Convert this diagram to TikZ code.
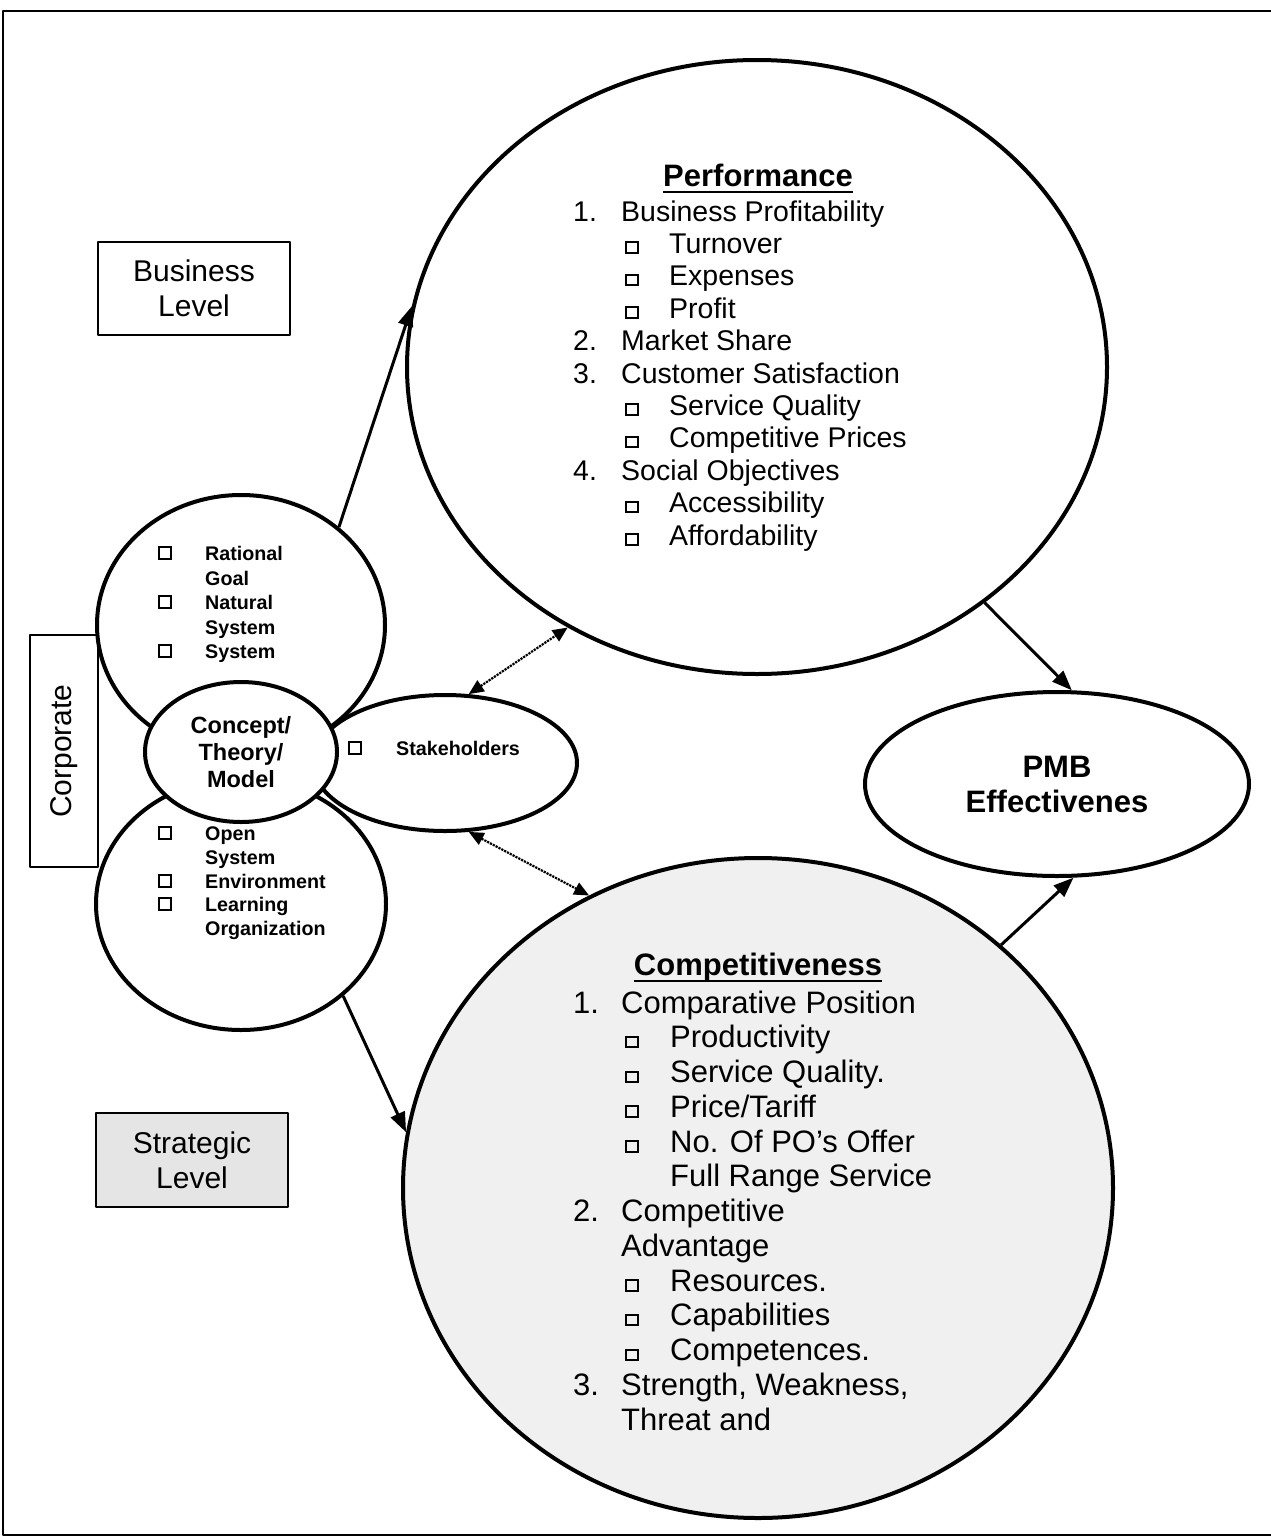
\documentclass[tikz,border=0pt]{standalone}
\usepackage{fontspec}
\setmainfont{Liberation Sans}
\usetikzlibrary{arrows.meta,shapes.geometric,calc}
\newcommand\cbig{\raisebox{1.5pt}{\setlength\fboxsep{0pt}\setlength\fboxrule{2pt}\fbox{\rule{0pt}{8.5pt}\rule{9.5pt}{0pt}}}}
\newcommand\csmall{{\setlength\fboxsep{0pt}\setlength\fboxrule{1.9pt}\fbox{\rule{0pt}{9.5pt}\rule{9.5pt}{0pt}}}}
\begin{document}
\begin{tikzpicture}[x=1pt,y=-1pt,line join=round,
  oval/.style={ellipse,draw,line width=4pt,inner sep=0pt},
  lbox/.style={draw,line width=2pt,inner sep=0pt,align=center,font=\fontsize{30}{35}\selectfont},
  arr/.style={line width=3pt,-{Triangle[length=20pt,width=15pt]}},
  darr/.style={line width=2.2pt,densely dotted,{Triangle[length=15pt,width=13pt]}-{Triangle[length=15pt,width=13pt]}},
  txt/.style={inner sep=0pt,anchor=base west},
  smalltxt/.style={inner sep=0pt,anchor=base west,font=\bfseries\fontsize{19.7}{24}\selectfont},
  perftxt/.style={txt,font=\fontsize{28.5}{32}\selectfont},
  comptxt/.style={txt,font=\fontsize{31}{35}\selectfont},
  title/.style={inner sep=0pt,anchor=base,font=\bfseries\fontsize{31}{35}\selectfont}]
\useasboundingbox (0,0) rectangle (1271,1539);
% frame
\draw[line width=2.5pt] (1271,11) -- (3,11) -- (3,1535) -- (1271,1535);
% level boxes
\node[lbox,minimum width=192pt,minimum height=93pt] (bl) at (194,288.5) {Business\\Level};
\node[lbox,fill=black!10,minimum width=192pt,minimum height=94pt] (sl) at (192,1160) {Strategic\\Level};
\node[lbox,rotate=90,minimum width=232pt,minimum height=68pt] (corp) at (64,751) {Corporate};
% big ellipses
\node[oval,minimum width=700pt,minimum height=614pt] (perf) at (757,367) {};
\node[oval,fill=black!6,minimum width=710pt,minimum height=660pt] (comp) at (758,1188) {};
\node[oval,minimum width=384pt,minimum height=184pt,align=center,font=\bfseries\fontsize{31}{35}\selectfont] (pmb) at (1057,784) {PMB\\Effectivenes};
% left cluster
\node[oval,fill=white,minimum width=264pt,minimum height=136pt] (stake) at (445,763) {};
\node[oval,fill=white,minimum width=288pt,minimum height=260pt] (up) at (241,625) {};
\node[oval,fill=white,minimum width=290pt,minimum height=252pt] (low) at (241,904) {};
\node[oval,fill=white,minimum width=192pt,minimum height=140pt,align=center,font=\bfseries\fontsize{23.5}{27}\selectfont] (concept) at (241,752) {Concept/\\Theory/\\Model};
% upper circle text
\node[smalltxt] (u1) at (205,560) {Rational};
\node[smalltxt] (u2) at (205,585) {Goal};
\node[smalltxt] (u3) at (205,609) {Natural};
\node[smalltxt] (u4) at (205,634) {System};
\node[smalltxt] (u5) at (205,658) {System};
\node[inner sep=0pt,anchor=west] (ub1) at (158,553) {\csmall};
\node[inner sep=0pt,anchor=west] (ub2) at (158,602) {\csmall};
\node[inner sep=0pt,anchor=west] (ub3) at (158,651) {\csmall};
% lower circle text
\node[smalltxt] (l1) at (205,840) {Open};
\node[smalltxt] (l2) at (205,864) {System};
\node[smalltxt] (l3) at (205,888) {Environment};
\node[smalltxt] (l4) at (205,911) {Learning};
\node[smalltxt] (l5) at (205,935) {Organization};
\node[inner sep=0pt,anchor=west] (lb1) at (158,833) {\csmall};
\node[inner sep=0pt,anchor=west] (lb2) at (158,881) {\csmall};
\node[inner sep=0pt,anchor=west] (lb3) at (158,904) {\csmall};
% stakeholders
\node[inner sep=0pt,anchor=west] (sb) at (348,748) {\csmall};
\node[smalltxt] (st) at (396,755) {Stakeholders};
% performance text
\node[title] (ptitle) at (758,186) {Performance};
\draw[line width=2.2pt] ([yshift=-6pt]ptitle.base west) -- ([yshift=-6pt]ptitle.base east);
\foreach \lab/\lx/\tx/\t [count=\i from 0] in {
  {1.}/0/48/{Business Profitability},
  {\cbig}/52/96/{Turnover},
  {\cbig}/52/96/{Expenses},
  {\cbig}/52/96/{Profit},
  {2.}/0/48/{Market Share},
  {3.}/0/48/{Customer Satisfaction},
  {\cbig}/52/96/{Service Quality},
  {\cbig}/52/96/{Competitive Prices},
  {4.}/0/48/{Social Objectives},
  {\cbig}/52/96/{Accessibility},
  {\cbig}/52/96/{Affordability}}{
  \node[perftxt] (pl\i) at (573+\lx,221+\i*32.4) {\lab};
  \node[perftxt] (pt\i) at (573+\tx,221+\i*32.4) {\t};
}
% competitiveness text
\node[title] (ctitle) at (758,975) {Competitiveness};
\draw[line width=2.2pt] ([yshift=-6pt]ctitle.base west) -- ([yshift=-6pt]ctitle.base east);
\foreach \lab/\lx/\tx/\t [count=\i from 0] in {
  {1.}/0/48/{Comparative Position},
  {\cbig}/52/97/{Productivity},
  {\cbig}/52/97/{Service Quality.},
  {\cbig}/52/97/{Price/Tariff},
  {\cbig}/52/97/{No. Of PO’s Offer},
  {}/52/97/{Full Range Service},
  {2.}/0/48/{Competitive},
  {}/0/48/{Advantage},
  {\cbig}/52/97/{Resources.},
  {\cbig}/52/97/{Capabilities},
  {\cbig}/52/97/{Competences.},
  {3.}/0/48/{Strength, Weakness,},
  {}/0/48/{Threat and}}{
  \node[comptxt] (cl\i) at (573+\lx,1013+\i*34.75) {\lab};
  \node[comptxt] (ct\i) at (573+\tx,1013+\i*34.75) {\t};
}
% connectors
\draw[arr] (up.45) -- (perf.170);
\draw[arr] (low.-42) -- (comp.171);
\draw[darr] (stake.71) -- (perf.234);
\draw[darr] (stake.-71) -- (comp.120);
\draw[arr] (perf.-46.6) -- (pmb.81);
\draw[arr] (comp.45) -- (pmb.-80);
\end{tikzpicture}
\end{document}
